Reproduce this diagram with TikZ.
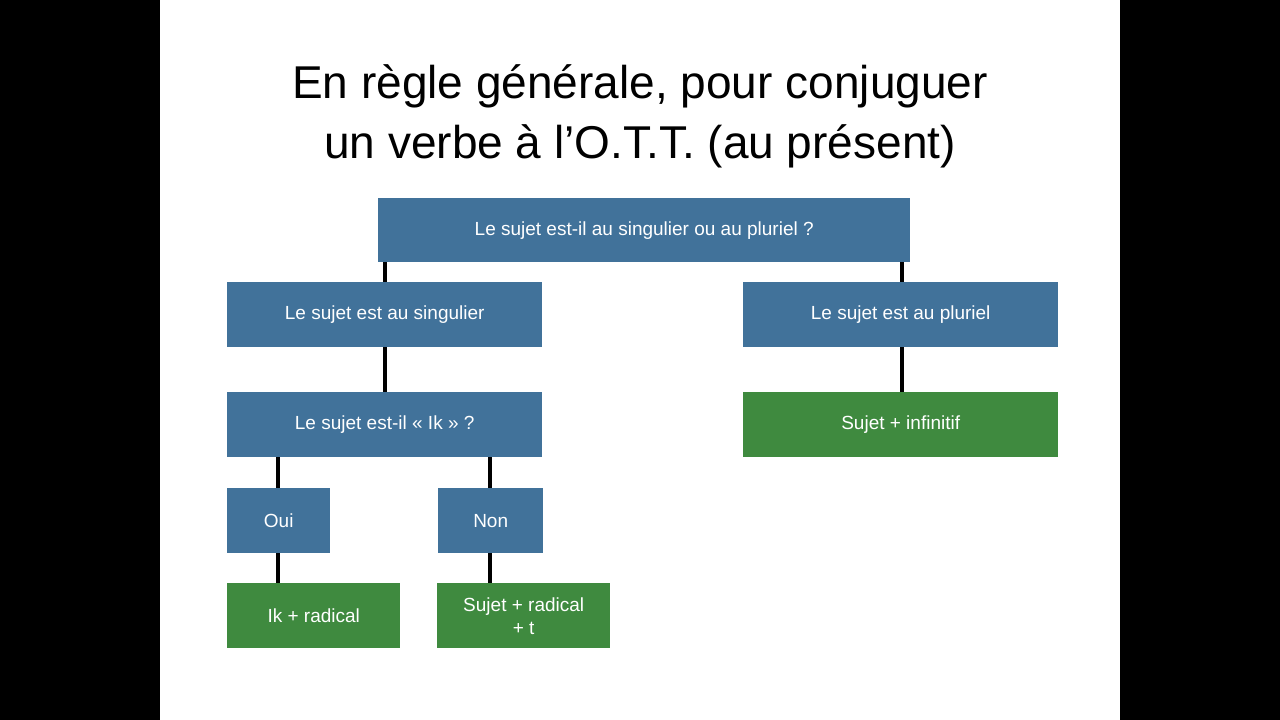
\documentclass[tikz,border=0pt]{standalone}
\usepackage{fontspec}
\setmainfont{Liberation Sans}
\definecolor{bl}{HTML}{41729A}
\definecolor{gr}{HTML}{3F8A3F}
\begin{document}
\begin{tikzpicture}[x=1pt,y=-1pt,
 bx/.style={fill=bl,text=white,font=\fontsize{19}{23}\selectfont,align=center,inner sep=0pt,anchor=north west},
 gx/.style={bx,fill=gr},
 ln/.style={line width=3.5pt,black}]
\useasboundingbox (0,0) rectangle (1280,720);
\fill[black] (0,0) rectangle (160,720);
\fill[black] (1120,0) rectangle (1280,720);
\node[font=\fontsize{46}{60}\selectfont,align=center] (title) at (640,116) {En règle générale, pour conjuguer\\un verbe à l’O.T.T. (au présent)};
\node[bx,minimum width=532pt,minimum height=64pt] (top) at (378,198) {Le sujet est-il au singulier ou au pluriel ?};
\node[bx,minimum width=315pt,minimum height=65pt] (sing) at (227,282) {Le sujet est au singulier};
\node[bx,minimum width=315pt,minimum height=65pt] (plur) at (743,282) {Le sujet est au pluriel};
\node[bx,minimum width=315pt,minimum height=65pt] (ik) at (227,392) {Le sujet est-il « Ik » ?};
\node[gx,minimum width=315pt,minimum height=65pt] (inf) at (743,392) {Sujet + infinitif};
\node[bx,minimum width=103pt,minimum height=65pt] (oui) at (227,488) {Oui};
\node[bx,minimum width=105pt,minimum height=65pt] (non) at (438,488) {Non};
\node[gx,minimum width=173pt,minimum height=65pt] (ikr) at (227,583) {Ik + radical};
\node[gx,minimum width=173pt,minimum height=65pt] (sr) at (437,583) {Sujet + radical\\+ t};
\draw[ln] (top.south -| 385,0) -- (sing.north -| 385,0);
\draw[ln] (top.south -| 902,0) -- (plur.north -| 902,0);
\draw[ln] (sing.south -| 385,0) -- (ik.north -| 385,0);
\draw[ln] (plur.south -| 902,0) -- (inf.north -| 902,0);
\draw[ln] (ik.south -| 278,0) -- (oui.north -| 278,0);
\draw[ln] (ik.south -| 490,0) -- (non.north -| 490,0);
\draw[ln] (oui.south -| 278,0) -- (ikr.north -| 278,0);
\draw[ln] (non.south -| 490,0) -- (sr.north -| 490,0);
\end{tikzpicture}
\end{document}
